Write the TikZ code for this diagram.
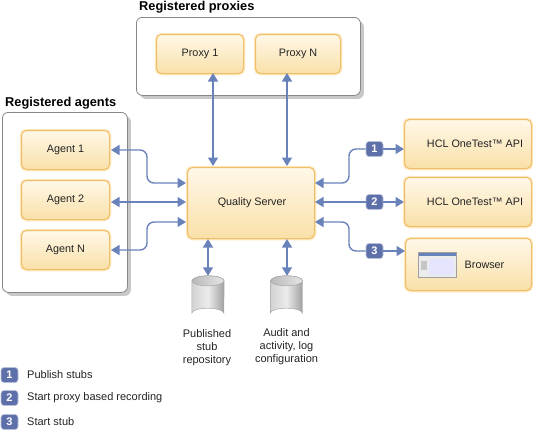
\documentclass[tikz,border=0pt]{standalone}
\usepackage{fontspec}
\setmainfont{Liberation Sans}
\usepackage{xcolor}
\usetikzlibrary{arrows.meta,shadows}
\definecolor{boxedge}{RGB}{240,190,105}
\definecolor{boxhalo}{RGB}{253,232,190}
\definecolor{boxtop}{RGB}{255,248,232}
\definecolor{boxbottom}{RGB}{249,224,168}
\definecolor{link}{RGB}{106,130,186}
\definecolor{badgefill}{RGB}{94,112,170}
\definecolor{groupedge}{RGB}{135,135,135}
\definecolor{groupshadow}{RGB}{200,200,200}
\definecolor{labeltext}{RGB}{35,35,35}

\begin{document}
\begin{tikzpicture}[
    x=1pt, y=-1pt,
    group/.style={rectangle, draw=groupedge, fill=white, rounded corners=6pt, line width=0.8pt, anchor=north west, general shadow={shadow xshift=3.5pt, shadow yshift=-3.5pt, fill=groupshadow}},
    item/.style={rectangle, draw=boxedge, line width=1pt, rounded corners=5pt, top color=boxtop, bottom color=boxbottom, anchor=north west, align=center, text=labeltext, font=\fontsize{10.8}{13}\selectfont, preaction={draw=boxhalo, line width=3.5pt}},
    title/.style={anchor=north west, inner sep=0pt, font=\fontsize{12.8}{15}\selectfont\bfseries, text=black},
    note/.style={align=center, inner sep=0pt, anchor=north, text=labeltext, font=\fontsize{11}{13}\selectfont},
    legendtext/.style={anchor=west, inner sep=0pt, text=labeltext, font=\fontsize{11}{13}\selectfont},
    badge/.style={rectangle, draw=badgefill!45, line width=0.7pt, rounded corners=3pt, fill=badgefill, minimum width=17pt, minimum height=15pt, inner sep=0pt, text=white, font=\fontsize{11}{11}\selectfont\bfseries},
    biarrow/.style={{Triangle[length=8.5pt,width=10pt]}-{Triangle[length=8.5pt,width=10pt]}, draw=link, line width=1.4pt, rounded corners=7pt},
    tiplink/.style={-{Triangle[length=8.5pt,width=10pt]}, draw=link, line width=1.4pt, rounded corners=7pt},
    store/.style={rectangle, minimum width=32pt, minimum height=42pt, inner sep=0pt},
]
\useasboundingbox (0,0) rectangle (533,431);

% === GROUPS ===
\node[group, minimum width=224pt, minimum height=78pt] (proxies) at (136,17) {};
\node[group, minimum width=125pt, minimum height=180pt] (agents) at (2,112) {};
\node[title] (proxiestitle) at (139,1) {Registered proxies};
\node[title] (agentstitle) at (5,97.5) {Registered agents};

% === PROXIES ===
\node[item, minimum width=87pt, minimum height=39pt] (proxy1) at (156,34) {Proxy 1};
\node[item, minimum width=85pt, minimum height=39pt] (proxyN) at (255,34) {Proxy N};

% === AGENTS ===
\node[item, minimum width=88pt, minimum height=39pt] (agent1) at (21,130) {Agent 1};
\node[item, minimum width=88pt, minimum height=39pt] (agent2) at (21,180) {Agent 2};
\node[item, minimum width=88pt, minimum height=39pt] (agentN) at (21,230) {Agent N};

% === SERVER ===
\node[item, minimum width=127pt, minimum height=71pt] (server) at (187,167) {\hspace*{2pt}Quality Server};

% === TARGETS ===
\node[item, minimum width=127pt, minimum height=49pt] (api1) at (404,119) {\hspace*{14pt}HCL OneTest™ API};
\node[item, minimum width=127pt, minimum height=49pt] (api2) at (404,177) {\hspace*{14pt}HCL OneTest™ API};
\node[item, minimum width=126pt, minimum height=52pt] (browser) at (405,238) {\hspace*{32pt}Browser};

% browser icon
\fill[gray!15] (418,252) rectangle (456,277);
\fill[blue!10!white] (429,259) rectangle (454,275);
\fill[gray!45] (421,261) rectangle (427,270);
\fill[link] (418,252) rectangle (456,256);
\draw[gray!75, line width=0.6pt] (418,252) rectangle (456,277);

% === STORES ===
\node[store] (store1) at (208,297) {};
\node[store] (store2) at (286.5,297) {};
\foreach \drum in {store1,store2} {
    \shade[left color=gray!35, right color=gray!75, middle color=gray!15, draw=gray!70, line width=0.5pt]
        ([yshift=-5pt]\drum.north west) -- ([yshift=5pt]\drum.south west)
        arc[start angle=180, end angle=360, x radius=16, y radius=5]
        -- ([yshift=-5pt]\drum.north east)
        arc[start angle=0, end angle=180, x radius=16, y radius=-5];
    \shade[left color=gray!55, right color=gray!20, draw=gray!70, line width=0.5pt]
        ([yshift=-5pt]\drum.north) ellipse (16 and 5);
}
\node[note] (store1text) at (207,329) {Published\\stub\\repository};
\node[note] (store2text) at (286.5,328) {Audit and\\activity, log\\configuration};

% === PORTS ON THE SERVER ===
\coordinate (top1) at (213,166);
\coordinate (top2) at (287,166);
\coordinate (left1) at (186,183);
\coordinate (left2) at (186,202);
\coordinate (left3) at (186,222);
\coordinate (right1) at (315,183);
\coordinate (right2) at (315,202);
\coordinate (right3) at (315,222);
\coordinate (bot1) at (208,239);
\coordinate (bot2) at (287,239);
\coordinate (bendleft) at (147,200);
\coordinate (bendright) at (349,200);

% === BADGES ===
\node[badge] (step1) at (374.5,149) {1};
\node[badge] (step2) at (374.5,202) {2};
\node[badge] (step3) at (374.5,251) {3};

% === ARROWS ===
\draw[biarrow] ([yshift=1pt]proxy1.south -| top1) -- (top1);
\draw[biarrow] ([yshift=1pt]proxyN.south -| top2) -- (top2);
\draw[biarrow] ([xshift=1pt]agent1.east) -- (agent1.east -| bendleft) -- (left1 -| bendleft) -- (left1);
\draw[biarrow] ([xshift=1pt]agent2.east |- left2) -- (left2);
\draw[biarrow] ([xshift=1pt]agentN.east) -- (agentN.east -| bendleft) -- (left3 -| bendleft) -- (left3);
\draw[biarrow] (bot1) -- (bot1 |- store1.north);
\draw[biarrow] (bot2) -- (bot2 |- store2.north);
\draw[tiplink] (step1.east) -- (api1.west |- step1);
\draw[tiplink] (step2.east) -- (api2.west |- step2);
\draw[tiplink] (step3.east) -- (browser.west |- step3);
\draw[tiplink] (step1.west) -- (step1 -| bendright) -- (right1 -| bendright) -- (right1);
\draw[tiplink] (step2.west) -- (right2);
\draw[tiplink] (step3.west) -- (step3 -| bendright) -- (right3 -| bendright) -- (right3);

% === LEGEND ===
\node[badge] (key1) at (9.5,375) {1};
\node[badge] (key2) at (9.5,398) {2};
\node[badge] (key3) at (9.5,422) {3};
\node[legendtext] (key1text) at (27,375) {Publish stubs};
\node[legendtext] (key2text) at (27,398) {Start proxy based recording};
\node[legendtext] (key3text) at (27,422) {Start stub};

\end{tikzpicture}
\end{document}
